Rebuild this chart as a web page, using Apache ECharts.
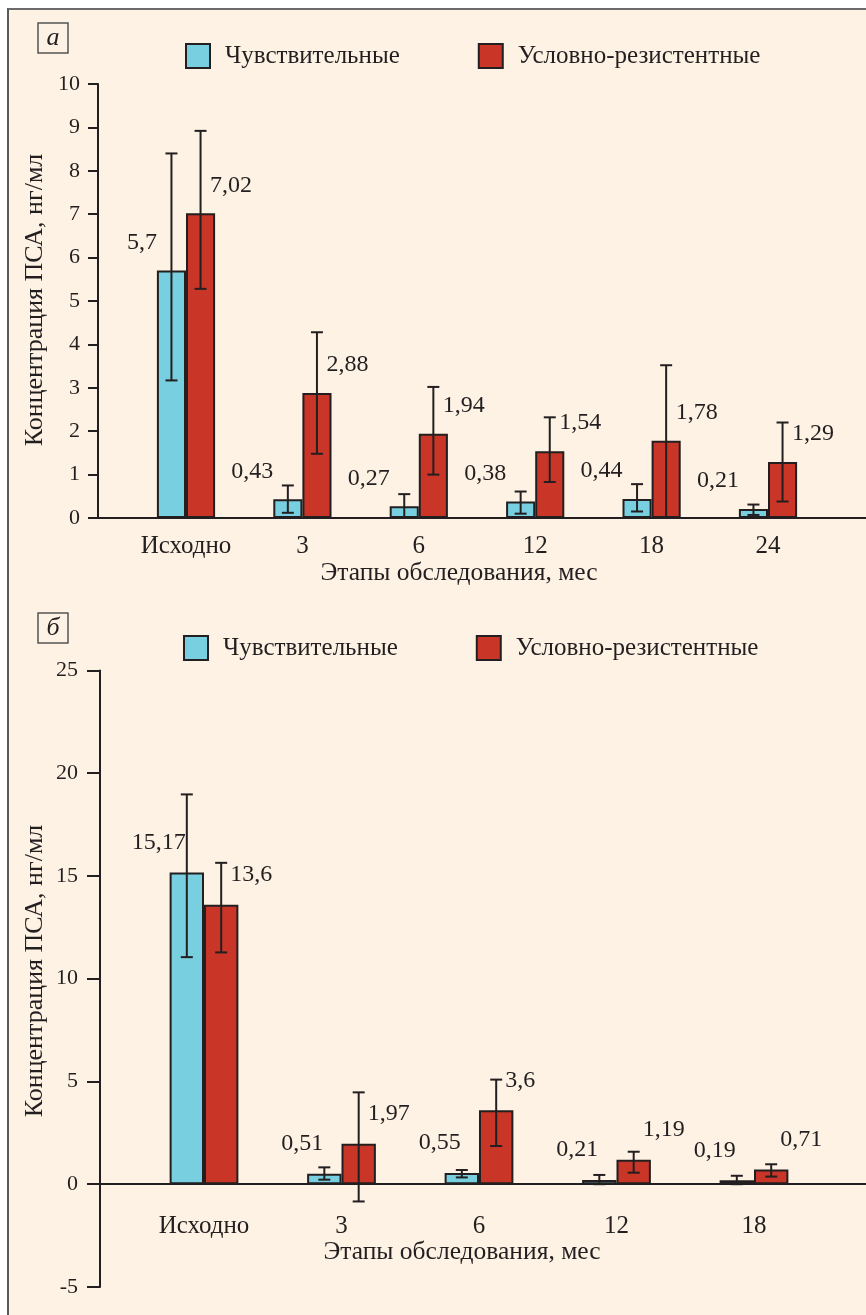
<!DOCTYPE html>
<html>
<head>
<meta charset="utf-8">
<script src="https://cdn.jsdelivr.net/npm/echarts@6/dist/echarts.min.js"></script>
<style>
  html, body { margin: 0; padding: 0; background: #fff; }
  #frame {
    position: absolute; left: 7px; top: 8px; width: 859px; height: 1305px;
    background: #fdf2e3; border-top: 2px solid #6b6b6b; border-left: 2px solid #5a5a5a;
    border-bottom: 1px solid #e6ddd2;
  }
  #chart { position: absolute; left: 0; top: 0; width: 866px; height: 1315px; }
</style>
</head>
<body>
<div id="frame"></div>
<div id="chart"></div>
<script>
// панель а
var catsA = ['Исходно', '3', '6', '12', '18', '24'];
var sensA = [5.7, 0.43, 0.27, 0.38, 0.44, 0.21];
var resA = [7.02, 2.88, 1.94, 1.54, 1.78, 1.29];
var sensLoA = [3.17, 0.12, 0, 0.10, 0.15, 0.07];
var sensHiA = [8.4, 0.75, 0.55, 0.61, 0.78, 0.31];
var resLoA = [5.28, 1.48, 1.0, 0.83, 0.02, 0.38];
var resHiA = [8.92, 4.28, 3.02, 2.32, 3.52, 2.2];
var yAxisA = [0, 10, 1]; // min, max, шаг

// панель б
var catsB = ['Исходно', '3', '6', '12', '18'];
var sensB = [15.17, 0.51, 0.55, 0.21, 0.19];
var resB = [13.6, 1.97, 3.6, 1.19, 0.71];
var sensLoB = [11.05, 0.22, 0.33, 0, 0];
var sensHiB = [18.97, 0.82, 0.69, 0.45, 0.41];
var resLoB = [11.28, -0.84, 1.86, 0.56, 0.37];
var resHiB = [15.64, 4.47, 5.09, 1.58, 0.97];
var yAxisB = [-5, 25, 5];
var yBarsB = [0, 25, 5]; // столбцы стоят на нуле

var names = ['Чувствительные', 'Условно-резистентные'];
var xTitle = 'Этапы обследования, мес';
var yTitle = 'Концентрация ПСА, нг/мл';

var serif = '"Liberation Serif", "Times New Roman", serif';
var ink = '#231f20';
var cyan = '#77cfe0';
var red = '#c93527';

function fmt(p) {
    return String(p.value).replace('.', ',');
}

function errData(lo, hi) {
    return lo.map(function (v, i) { return [i, v, hi[i]]; });
}

// усы погрешности, сдвиг на половину столбца влево/вправо
function errorRender(shift) {
    return function (params, api) {
        var band = api.size([1, 0])[0];
        var dx = shift * band * 0.125;
        var lo = api.coord([api.value(0), api.value(1)]);
        var hi = api.coord([api.value(0), api.value(2)]);
        var x = lo[0] + dx;
        var cap = 6;
        var st = { stroke: ink, lineWidth: 2 };
        return {
            type: 'group',
            children: [
                { type: 'line', shape: { x1: x, y1: hi[1], x2: x, y2: lo[1] }, style: st },
                { type: 'line', shape: { x1: x - cap, y1: hi[1], x2: x + cap, y2: hi[1] }, style: st },
                { type: 'line', shape: { x1: x - cap, y1: lo[1], x2: x + cap, y2: lo[1] }, style: st }
            ]
        };
    };
}

function frameY(idx, r, tickLen, margin) {
    return {
        gridIndex: idx, type: 'value', min: r[0], max: r[1], interval: r[2],
        axisLine: { show: true, onZero: false, lineStyle: { color: ink, width: 2 } },
        axisTick: { show: true, length: tickLen, lineStyle: { color: ink, width: 2 } },
        axisLabel: { margin: margin, color: ink, fontSize: 22, fontFamily: serif },
        splitLine: { show: false }
    };
}
function frameX(idx) {
    return {
        gridIndex: idx, type: 'value', min: 0, max: 1,
        axisLine: { show: true, onZero: true, lineStyle: { color: ink, width: 2 } },
        axisTick: { show: false }, axisLabel: { show: false }, splitLine: { show: false }
    };
}
function barsX(idx, cats, margin) {
    return {
        gridIndex: idx, type: 'category', data: cats,
        axisLine: { show: false },
        axisTick: { show: false },
        axisLabel: { interval: 0, margin: margin, color: ink, fontSize: 25, fontFamily: serif }
    };
}
function barsY(idx, r) {
    return {
        gridIndex: idx, type: 'value', min: r[0], max: r[1], interval: r[2],
        axisLine: { show: false }, axisTick: { show: false },
        axisLabel: { show: false }, splitLine: { show: false }
    };
}

function barSeries(name, axis, data, color, lab) {
    return {
        name: name, type: 'bar', xAxisIndex: axis, yAxisIndex: axis,
        data: data, barGap: '0%', barCategoryGap: '50%',
        itemStyle: { color: color, borderColor: ink, borderWidth: 2 },
        label: {
            show: true, position: 'top', distance: lab.dist, align: lab.align,
            verticalAlign: 'middle', offset: lab.offset, formatter: fmt,
            color: ink, fontSize: 24, fontFamily: serif
        },
        emphasis: { disabled: true }
    };
}
function errSeries(axis, lo, hi, shift) {
    return {
        type: 'custom', xAxisIndex: axis, yAxisIndex: axis, z: 5, clip: false,
        renderItem: errorRender(shift), data: errData(lo, hi), silent: true
    };
}

function legendAt(top, left) {
    return {
        data: names, top: top, left: left, orient: 'horizontal',
        itemWidth: 24, itemHeight: 24, itemGap: 78, icon: 'rect',
        textStyle: { color: ink, fontSize: 25, fontFamily: serif, padding: [0, 0, 0, 10] },
        selectedMode: false
    };
}

function panelBox(x, y, letter) {
    return [
        { type: 'rect', shape: { x: x, y: y, width: 30, height: 30 },
          style: { fill: 'none', stroke: '#555', lineWidth: 1.5 } },
        { type: 'text', x: x + 15, y: y + 15,
          style: { text: letter, align: 'center', verticalAlign: 'middle', fill: ink,
                   font: 'italic 26px ' + serif } }
    ];
}
function titleText(x, y, text, size, rot) {
    return {
        type: 'text', x: x, y: y, rotation: rot || 0,
        style: { text: text, align: 'center', verticalAlign: 'middle', fill: ink,
                 font: size + 'px ' + serif }
    };
}

var myChart = echarts.init(document.getElementById('chart'), null, { renderer: 'canvas' });
var option = {
    backgroundColor: 'transparent',
    animation: false,
    legend: [legendAt(38, 180), legendAt(630, 178)],
    grid: [
        { left: 98, right: 0, top: 84, height: 434, outerBoundsMode: 'none' },
        { left: 127.8, right: 39.8, top: 84, height: 434, outerBoundsMode: 'none' },
        { left: 100, right: 0, top: 670.5, height: 616.4, outerBoundsMode: 'none' },
        { left: 135.25, right: 43.25, top: 670.5, height: 513.7, outerBoundsMode: 'none' }
    ],
    xAxis: [frameX(0), barsX(1, catsA, 16), frameX(2), barsX(3, catsB, 30)],
    yAxis: [frameY(0, yAxisA, 10, 18), barsY(1, yAxisA), frameY(2, yAxisB, 13, 22), barsY(3, yBarsB)],
    series: [
        barSeries(names[0], 1, sensA, cyan, { dist: 28, align: 'right', offset: [-14.5, 0] }),
        barSeries(names[1], 1, resA, red, { dist: 28, align: 'left', offset: [9.5, 0] }),
        errSeries(1, sensLoA, sensHiA, -1),
        errSeries(1, resLoA, resHiA, 1),
        barSeries(names[0], 3, sensB, cyan, { dist: 30, align: 'right', offset: [-1, 0] }),
        barSeries(names[1], 3, resB, red, { dist: 30, align: 'left', offset: [9, 0] }),
        errSeries(3, sensLoB, sensHiB, -1),
        errSeries(3, resLoB, resHiB, 1)
    ],
    graphic: [].concat(
        panelBox(38, 23, 'а'),
        panelBox(38, 613, 'б'),
        [
            titleText(459, 573, xTitle, 25.5),
            titleText(462, 1252, xTitle, 25.5),
            titleText(35, 300, yTitle, 26, Math.PI / 2),
            titleText(35, 971, yTitle, 26, Math.PI / 2)
        ]
    )
};
myChart.setOption(option);
window.addEventListener('resize', function () {
    myChart.resize();
});
</script>
</body>
</html>
